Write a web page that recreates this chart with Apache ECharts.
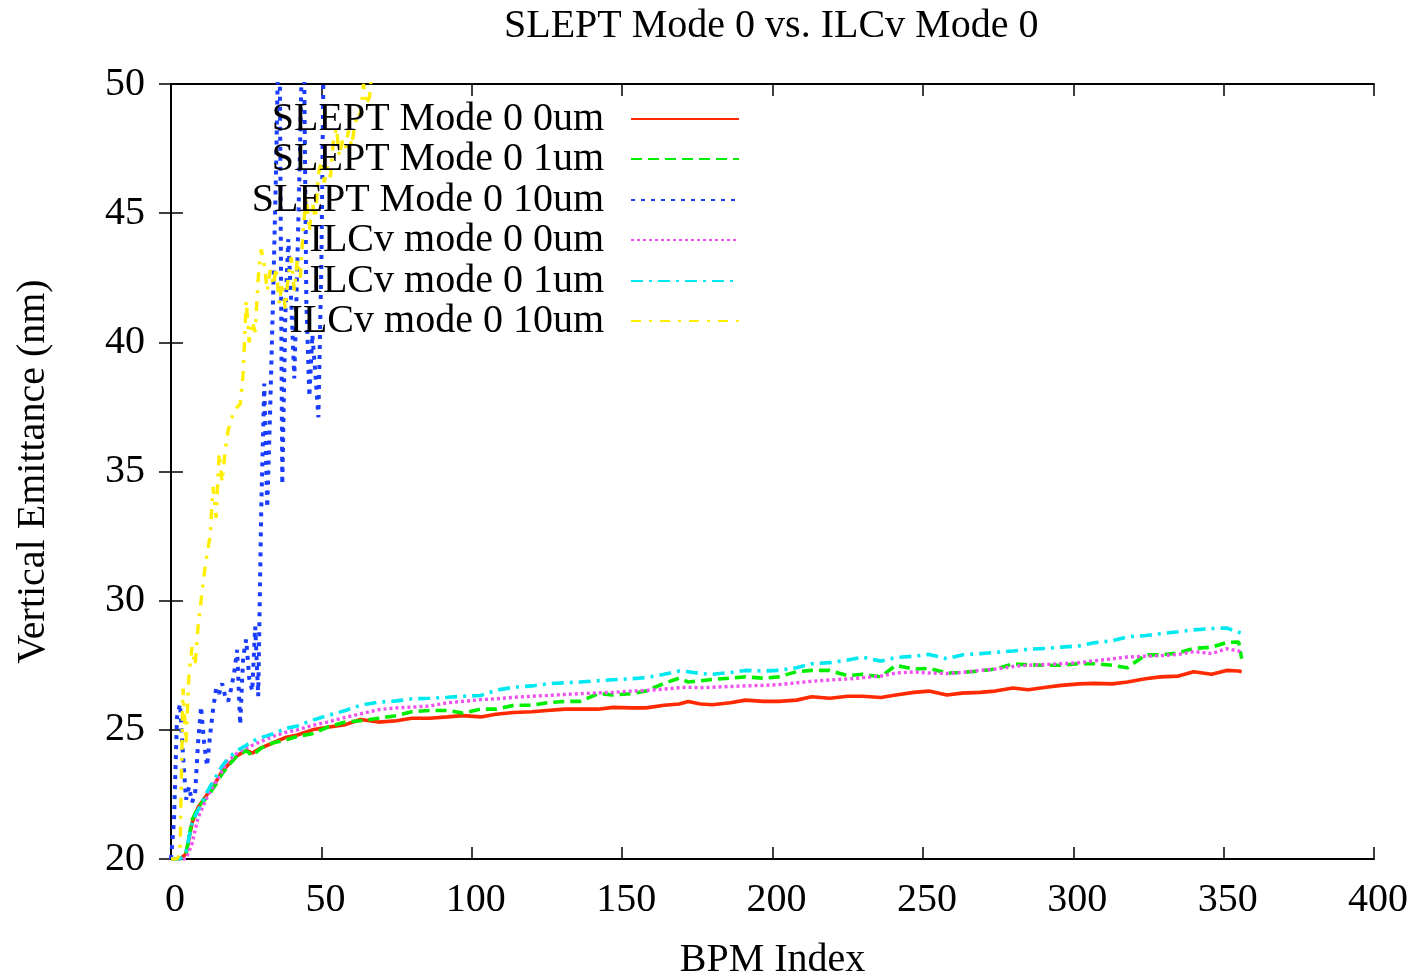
<!DOCTYPE html>
<html>
<head>
<meta charset="utf-8">
<script src="https://cdn.jsdelivr.net/npm/echarts@6/dist/echarts.min.js"></script>
<style>
html,body{margin:0;padding:0;background:#fff;overflow:hidden;}
#chart{width:1416px;height:978px;}
</style>
</head>
<body>
<div id="chart"></div>
<script>
// ---- data ----
const chartTitle = 'SLEPT Mode 0 vs. ILCv Mode 0';
const xAxisName = 'BPM Index';
const yAxisName = 'Vertical Emittance (nm)';
const seriesNames = ['SLEPT Mode 0 0um', 'SLEPT Mode 0 1um', 'SLEPT Mode 0 10um',
                     'ILCv mode 0 0um', 'ILCv mode 0 1um', 'ILCv mode 0 10um'];

// BPM indices sampled for the four low-emittance curves
const bpmLow = [0,3,5,7,9,12,15,17,19,22,25,27,30,34,38,42,47,52,58,63,69,75,80,86,92,97,103,108,114,120,
  125,131,136,142,147,153,158,164,169,172,176,180,186,191,197,202,208,213,219,225,230,236,241,247,252,
  258,263,269,274,280,285,291,296,302,307,313,318,324,329,335,340,346,351,355,356];

const slept0um = [20,20,20.2,21.4,22.0, 22.5,23.0,23.4,23.65,24.0, 24.2,24.1,24.3,24.5,24.7,
  24.8,25.0,25.1,25.2,25.4, 25.3,25.35,25.45,25.45,25.5, 25.55,25.5,25.6,25.67,25.7,
  25.75,25.8,25.8,25.8,25.87, 25.85,25.85,25.95,26.0,26.1, 26.0,25.97,26.05,26.15,26.1,
  26.1,26.15,26.28,26.22,26.3, 26.3,26.25,26.35,26.45,26.5, 26.35,26.42,26.45,26.5,26.62,
  26.55,26.65,26.72,26.78,26.8, 26.78,26.85,26.98,27.05,27.08, 27.25,27.15,27.3,27.28,27.25];

const slept1um = [20,20,20.2,21.5,22.0, 22.4,22.9,23.3,23.6,24.0, 24.2,24.0,24.3,24.5,24.6,
  24.75,24.85,25.1,25.3,25.35, 25.45,25.55,25.7,25.75,25.75, 25.65,25.8,25.8,25.95,25.95,
  26.05,26.1,26.1,26.4,26.35, 26.4,26.5,26.8,27.0,26.85, 26.9,26.95,27.0,27.05,27.0,
  27.05,27.25,27.3,27.3,27.1, 27.15,27.05,27.5,27.35,27.38, 27.2,27.22,27.28,27.35,27.55,
  27.52,27.5,27.5,27.56,27.56, 27.5,27.4,27.9,27.9,27.98, 28.15,28.2,28.38,28.4,27.75];

const ilcv0um = [20,20,20,20.6,21.6, 22.4,23.0,23.4,23.8,24.1, 24.3,24.4,24.55,24.75,24.9,
  25.0,25.17,25.3,25.48,25.62, 25.78,25.85,25.88,25.92,26.05, 26.1,26.17,26.2,26.26,26.3,
  26.33,26.37,26.4,26.43,26.45, 26.5,26.52,26.58,26.63,26.65, 26.63,26.65,26.68,26.7,26.72,
  26.75,26.82,26.88,26.93,26.97, 27.02,27.08,27.2,27.24,27.2, 27.18,27.22,27.3,27.35,27.45,
  27.5,27.53,27.56,27.6,27.67, 27.75,27.82,27.85,27.87,27.92, 28.03,27.95,28.14,28.05,28.0];

const ilcv1um = [20,20,20.3,21.4,21.9, 22.6,23.2,23.6,23.9,24.2, 24.4,24.55,24.7,24.85,25.05,
  25.15,25.37,25.55,25.75,25.95, 26.07,26.12,26.2,26.22,26.26, 26.3,26.33,26.53,26.65,26.7,
  26.78,26.82,26.85,26.9,26.94, 26.98,27.02,27.15,27.28,27.25, 27.18,27.15,27.22,27.3,27.28,
  27.3,27.4,27.56,27.6,27.7, 27.81,27.66,27.8,27.85,27.92, 27.75,27.9,27.95,28.0,28.05,
  28.12,28.15,28.2,28.25,28.37, 28.45,28.6,28.65,28.72,28.8, 28.87,28.92,28.94,28.78,28.74];

// BPM indices and values for the two 10um curves (values above 50 leave the frame)
const bpmSlept10 = [0,1,2,3,4,5,6,7,8,9,10,11,12,13,14,15,16,17,18,19,20,21,22,23,24,25,26,27,28,29,
  30,31,32,33,34,35,36,37,38,39,40,41,42,43,44,45,46,47,48,49,50,51,52,53];
const slept10um = [20,21.5,25.5,26.0,24.0,22.3,22.8,22.2,22.5,24.5,25.9,24.5,23.6,24.8,25.8,26.6,26.4,26.8,26.3,26.1,
  26.6,27.2,28.1,25.2,27.8,28.5,27.0,26.5,29.0,26.3,
  33.5,38.4,33.6,37.5,42.0,47.0,54.0,34.5,41.0,44.0,41.5,38.6,43.0,48.0,54.0,41.6,37.9,40.3,38.8,37.1,
  43.0,54.0,58.0,60.0];

const bpmIlcv10 = [0,1,2,3,4,5,6,7,8,9,10,11,12,13,14,15,16,17,18,19,20,21,22,23,24,25,26,27,28,29,
  30,31,32,33,34,35,36,37,38,39,40,41,42,43,44,45,46,47,48,49,50,51,52,53,54,55,56,57,58,59,
  60,61,62,63,64,65,66,67,68,70];
const ilcv10um = [20,20,20,20.2,26.6,24.5,27.2,28.2,27.5,29.0,30.0,31.0,31.8,32.5,34.4,33.2,35.7,34.6,35.8,36.6,
  37.0,37.3,37.5,37.6,38.8,41.6,40.0,40.8,40.4,42.5,
  43.6,43.0,42.0,42.8,42.2,42.9,41.5,42.3,41.3,42.6,43.3,42.0,43.2,42.5,44.5,45.6,44.3,45.4,44.8,46.5,
  47.0,46.2,46.8,46.4,47.8,48.3,47.2,47.8,47.5,48.2,
  47.6,48.3,48.9,48.8,50.0,49.2,49.5,50.8,52.0,54.0];

const xTicks = {min: 0, max: 400, step: 50};
const yTicks = {min: 20, max: 50, step: 5};

// ---- styling ----
const FONT = "'Liberation Serif', 'Times New Roman', serif";
const colors = ['#ff2a00', '#00ee00', '#1a3cff', '#f050f0', '#00e8f0', '#ffee00'];
const dashes = ['solid', [11, 6], [4, 6], [3, 3], [12, 6, 3, 6], [10, 8, 3, 8]];
const widths = [3.6, 3.6, 4, 3.4, 3.6, 3.4];

function pairs(xs, ys) { return xs.map((x, i) => [x, ys[i]]); }
const seriesData = [
  pairs(bpmLow, slept0um),
  pairs(bpmLow, slept1um),
  pairs(bpmSlept10, slept10um),
  pairs(bpmLow, ilcv0um),
  pairs(bpmLow, ilcv1um),
  pairs(bpmIlcv10, ilcv10um)
];

const legendRowCenters = [117, 157, 198, 238, 279, 319];

const chart = echarts.init(document.getElementById('chart'), null, {renderer: 'canvas', width: 1416, height: 978});

const axisCommon = {
  axisLine: {show: true, lineStyle: {color: '#000', width: 2}},
  axisTick: {show: true, inside: true, length: 12, lineStyle: {color: '#000', width: 1.5}},
  splitLine: {show: false}
};

const option = {
  backgroundColor: '#fff',
  animation: false,
  title: {
    text: chartTitle, left: 504, top: 6, padding: 0,
    textStyle: {fontFamily: FONT, fontSize: 40, fontWeight: 'normal', color: '#000'}
  },
  grid: {left: 171, right: 42, top: 84, bottom: 119, show: false, containLabel: false, outerBoundsMode: 'none'},
  legend: seriesNames.map((n, i) => ({
    data: [n], orient: 'vertical', align: 'right',
    right: 1416 - 740, top: legendRowCenters[i] - 18, padding: 0,
    itemWidth: 108, itemHeight: 14, selectedMode: false,
    itemStyle: {opacity: 0},
    textStyle: {fontFamily: FONT, fontSize: 40, color: '#000', padding: [0, 22, 0, 0]}
  })),
  xAxis: [
    Object.assign({
      type: 'value', min: xTicks.min, max: xTicks.max, interval: xTicks.step, position: 'bottom',
      name: xAxisName, nameLocation: 'middle', nameGap: 81,
      nameTextStyle: {fontFamily: FONT, fontSize: 40, color: '#000'},
      axisLabel: {fontFamily: FONT, fontSize: 40, color: '#000', margin: 21, padding: [0, 0, 0, 8]}
    }, axisCommon),
    Object.assign({
      type: 'value', min: xTicks.min, max: xTicks.max, interval: xTicks.step, position: 'top',
      axisLabel: {show: false}
    }, axisCommon)
  ],
  yAxis: [
    Object.assign({
      type: 'value', min: yTicks.min, max: yTicks.max, interval: yTicks.step, position: 'left',
      name: yAxisName, nameLocation: 'middle', nameGap: 118,
      nameTextStyle: {fontFamily: FONT, fontSize: 40, color: '#000'},
      axisLabel: {fontFamily: FONT, fontSize: 40, color: '#000', margin: 26}
    }, axisCommon),
    Object.assign({
      type: 'value', min: yTicks.min, max: yTicks.max, interval: yTicks.step, position: 'right',
      axisLabel: {show: false}
    }, axisCommon)
  ],
  series: seriesNames.map((n, i) => ({
    name: n, type: 'line', data: seriesData[i], xAxisIndex: 0, yAxisIndex: 0,
    symbol: 'none', showSymbol: false, clip: true, smooth: false,
    color: colors[i],
    lineStyle: {color: colors[i], width: widths[i], type: dashes[i]},
    emphasis: {disabled: true}
  }))
};
chart.setOption(option);
</script>
</body>
</html>
